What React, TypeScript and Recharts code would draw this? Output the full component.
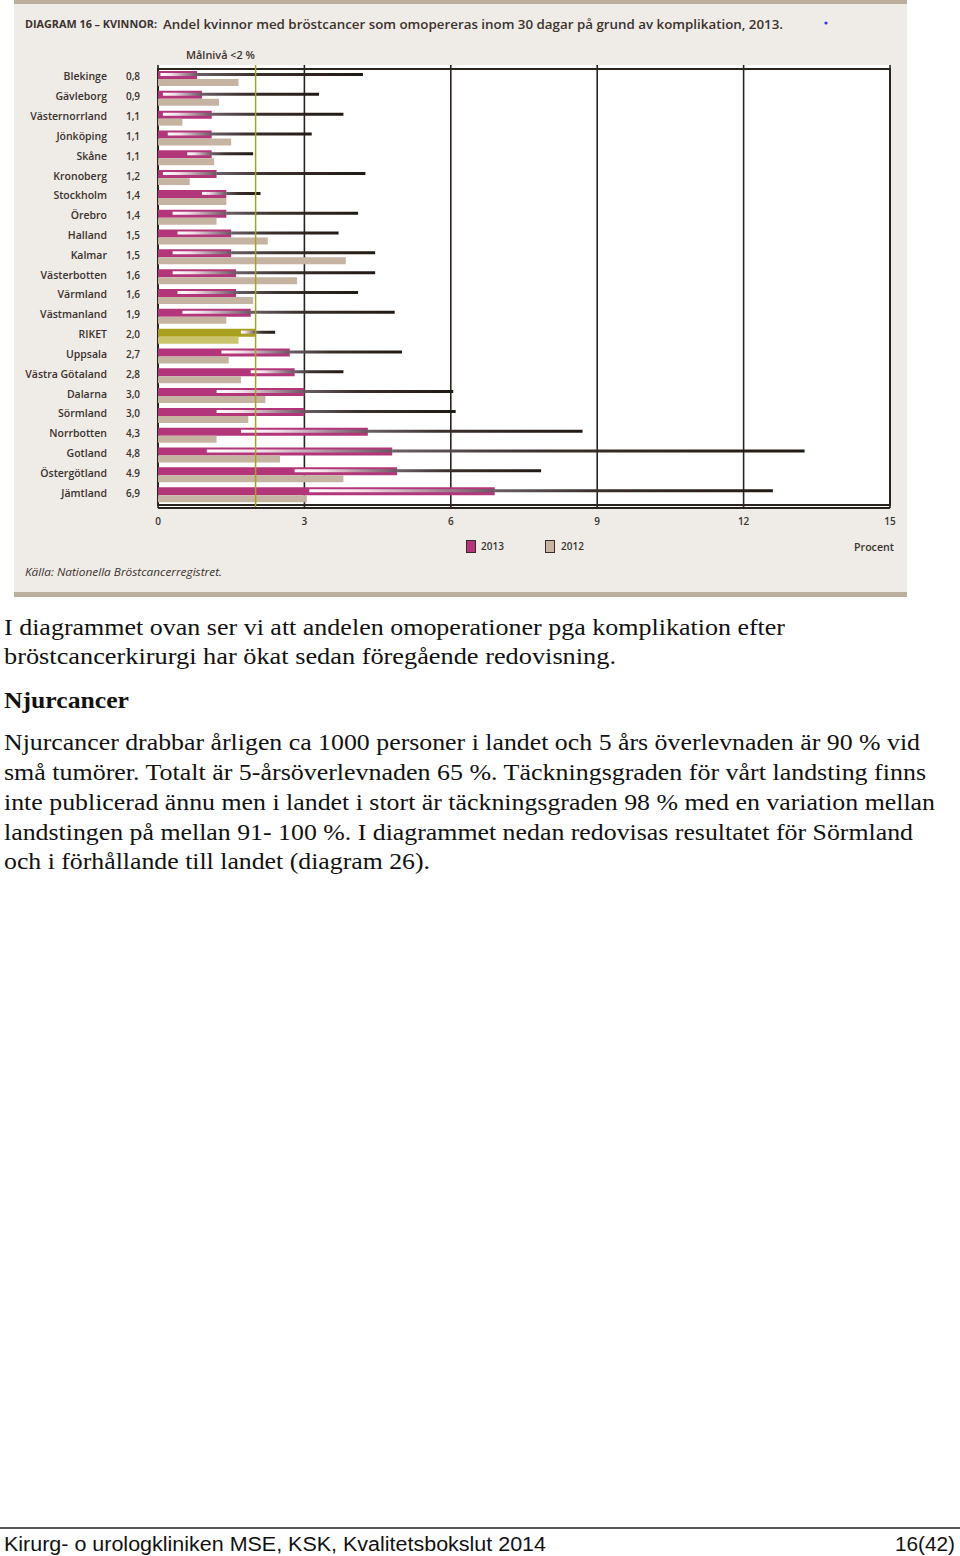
import React from 'react';
import {
  BarChart,
  Bar,
  XAxis,
  YAxis,
  CartesianGrid,
  ReferenceLine,
  ReferenceArea,
  Cell,
} from 'recharts';

// ---------- data ----------
const regions = [
  'Blekinge', 'Gävleborg', 'Västernorrland', 'Jönköping', 'Skåne', 'Kronoberg',
  'Stockholm', 'Örebro', 'Halland', 'Kalmar', 'Västerbotten', 'Värmland',
  'Västmanland', 'RIKET', 'Uppsala', 'Västra Götaland', 'Dalarna', 'Sörmland',
  'Norrbotten', 'Gotland', 'Östergötland', 'Jämtland',
];
const valueLabels = [
  '0,8', '0,9', '1,1', '1,1', '1,1', '1,2', '1,4', '1,4', '1,5', '1,5', '1,6',
  '1,6', '1,9', '2,0', '2,7', '2,8', '3,0', '3,0', '4,3', '4,8', '4.9', '6,9',
];
const values2013 = [
  0.8, 0.9, 1.1, 1.1, 1.1, 1.2, 1.4, 1.4, 1.5, 1.5, 1.6, 1.6, 1.9, 2.0, 2.7,
  2.8, 3.0, 3.0, 4.3, 4.8, 4.9, 6.9,
];
const lower2013 = [
  0.05, 0.1, 0.1, 0.2, 0.6, 0.1, 0.9, 0.3, 0.4, 0.3, 0.3, 0.4, 0.5, 1.7, 1.3,
  1.9, 1.2, 1.2, 1.7, 1.0, 2.8, 3.1,
];
const upper2013 = [
  4.2, 3.3, 3.8, 3.15, 1.95, 4.25, 2.1, 4.1, 3.7, 4.45, 4.45, 4.1, 4.85, 2.4,
  5.0, 3.8, 6.05, 6.1, 8.7, 13.25, 7.85, 12.6,
];
const values2012 = [
  1.65, 1.25, 0.5, 1.5, 1.15, 0.65, 1.4, 1.2, 2.25, 3.85, 2.85, 1.95, 1.4, 1.65,
  1.45, 1.7, 2.2, 1.85, 1.2, 2.5, 3.8, 3.05,
];
const xTicks = [0, 3, 6, 9, 12, 15];
const targetLevel = 2;
const highlightRegion = 'RIKET';

const data = regions.map((name, i) => ({
  name,
  label: valueLabels[i],
  v2013: values2013[i],
  lo: lower2013[i],
  hi: upper2013[i],
  v2012: values2012[i],
}));

// ---------- styles ----------
const MAGENTA = '#b3367a';
const TAN = '#c6b4a2';
const OLIVE = '#a7a11f';
const OLIVE_LIGHT = '#c9c46c';
const DARK = '#2b231e';
const PANEL = '#efebe6';
const CHART_FONT = 'Open Sans, DejaVu Sans, sans-serif';
const SERIF = 'Liberation Serif, Times New Roman, Times, serif';
const SANS = 'Liberation Sans, Arial, Helvetica, sans-serif';

const NAME_RIGHT_X = 107;
const VALUE_CENTER_X = 133;

const yPadding = { top: 4, bottom: 3 };

const RegionTick = (props: any) => {
  const { y, payload } = props;
  const row = data.find((d) => d.name === payload.value);
  return (
    <g>
      <text
        x={NAME_RIGHT_X}
        y={y}
        dy={1.5}
        textAnchor="end"
        fontSize={10.5}
        fontWeight={600}
        fill="#3a322e"
        fontFamily={CHART_FONT}
      >
        {payload.value}
      </text>
      <text
        x={VALUE_CENTER_X}
        y={y}
        dy={1.5}
        textAnchor="middle"
        fontSize={10}
        fontWeight={600}
        fill="#3a322e"
        fontFamily={CHART_FONT}
      >
        {row ? row.label : ''}
      </text>
    </g>
  );
};

const bodyLines1 = [
  { t: 'I diagrammet ovan ser vi att andelen omoperationer pga komplikation efter', w: 781, y: 635 },
  { t: 'bröstcancerkirurgi har ökat sedan föregående redovisning.', w: 612, y: 664 },
];
const bodyLines2 = [
  { t: 'Njurcancer drabbar årligen ca 1000 personer i landet och 5 års överlevnaden är 90 % vid', w: 916, y: 750 },
  { t: 'små tumörer. Totalt är 5-årsöverlevnaden 65 %. Täckningsgraden för vårt landsting finns', w: 922, y: 780 },
  { t: 'inte publicerad ännu men i landet i stort är täckningsgraden 98 % med en variation mellan', w: 931, y: 810 },
  { t: 'landstingen på mellan 91- 100 %. I diagrammet nedan redovisas resultatet för Sörmland', w: 909, y: 840 },
  { t: 'och i förhållande till landet (diagram 26).', w: 426, y: 869 },
];

export default function App() {
  return (
    <div style={{ position: 'relative', width: 960, height: 1556, background: '#fff', overflow: 'hidden' }}>
      <style>{'body{margin:0;}'}</style>
      <svg width={0} height={0} style={{ position: 'absolute' }}>
        <defs>
          <linearGradient id="stripeGrad" x1="0" y1="0" x2="1" y2="0">
            <stop offset="0" stopColor="#ffffff" />
            <stop offset="0.3" stopColor="#f0dfe8" />
            <stop offset="0.7" stopColor="#a48a98" />
            <stop offset="1" stopColor="#6a5662" />
          </linearGradient>
          <linearGradient id="lineGrad" x1="0" y1="0" x2="1" y2="0">
            <stop offset="0" stopColor="#6a5f66" />
            <stop offset="0.35" stopColor="#3a302c" />
            <stop offset="1" stopColor="#211914" />
          </linearGradient>
        </defs>
      </svg>

      {/* chart panel */}
      <div
        style={{
          position: 'absolute',
          left: 14,
          top: 0,
          width: 893,
          height: 588,
          background: PANEL,
          borderTop: '4px solid #bcae9c',
          borderBottom: '5px solid #bcae9c',
        }}
      />

      <div style={{ position: 'absolute', left: 0, top: 0 }}>
        <BarChart
          width={960}
          height={600}
          data={data}
          layout="vertical"
          barGap={0}
          margin={{ top: 65, right: 70, bottom: 62, left: 0 }}
        >
          <CartesianGrid
            yAxisId="main"
            horizontal={false}
            stroke={DARK}
            strokeWidth={1.6}
            fill="#ffffff"
            fillOpacity={1}
          />
          <XAxis
            type="number"
            domain={[0, 15]}
            ticks={xTicks}
            height={30}
            axisLine={{ stroke: DARK, strokeWidth: 2 }}
            tickLine={false}
            tickSize={0}
            tickMargin={10}
            tick={{ fontSize: 10, fill: '#3a322e', fontFamily: CHART_FONT, fontWeight: 600 }}
            interval={0}
          />
          <YAxis
            yAxisId="main"
            type="category"
            dataKey="name"
            width={158}
            axisLine={false}
            tickLine={false}
            tickSize={0}
            tickMargin={0}
            interval={0}
            padding={yPadding}
            tick={<RegionTick />}
          />
          <YAxis yAxisId="ci1" type="category" dataKey="name" hide padding={yPadding} />
          <YAxis yAxisId="ci2" type="category" dataKey="name" hide padding={yPadding} />
          <ReferenceLine
            yAxisId="main"
            x={targetLevel}
            stroke={OLIVE}
            strokeWidth={1.5}
          />
          <Bar yAxisId="main" dataKey="v2013" barSize={8} fill={MAGENTA} isAnimationActive={false}>
            {data.map((d) => (
              <Cell key={d.name} fill={d.name === highlightRegion ? OLIVE : MAGENTA} />
            ))}
          </Bar>
          <Bar yAxisId="main" dataKey="v2012" barSize={7} fill={TAN} isAnimationActive={false}>
            {data.map((d) => (
              <Cell key={d.name} fill={d.name === highlightRegion ? OLIVE_LIGHT : TAN} />
            ))}
          </Bar>
          <Bar
            yAxisId="ci1"
            dataKey={(d: any) => [d.lo, d.v2013]}
            barSize={3}
            fill="url(#stripeGrad)"
            isAnimationActive={false}
          />
          <Bar yAxisId="ci1" dataKey="v2012" barSize={9} fill="none" isAnimationActive={false} />
          <Bar
            yAxisId="ci2"
            dataKey={(d: any) => [d.v2013, d.hi]}
            barSize={3}
            fill="url(#lineGrad)"
            isAnimationActive={false}
          />
          <Bar yAxisId="ci2" dataKey="v2012" barSize={9} fill="none" isAnimationActive={false} />
          <ReferenceArea
            yAxisId="main"
            x1={0}
            x2={15}
            fill="none"
            stroke={DARK}
            strokeWidth={2}
          />
        </BarChart>
      </div>

      {/* texts */}
      <svg
        width={960}
        height={1556}
        style={{ position: 'absolute', left: 0, top: 0, pointerEvents: 'none' }}
      >
        <text x={25} y={28} fontSize={10} fontWeight={700} fill="#3a322e" fontFamily={CHART_FONT}
          textLength={132} lengthAdjust="spacingAndGlyphs">
          DIAGRAM 16 – KVINNOR:
        </text>
        <text x={163} y={29} fontSize={13} fontWeight={600} fill="#3a322e" fontFamily={CHART_FONT}
          textLength={620} lengthAdjust="spacingAndGlyphs">
          Andel kvinnor med bröstcancer som omopereras inom 30 dagar på grund av komplikation, 2013.
        </text>
        <circle cx={826} cy={23} r={1.6} fill="#3434d8" />
        <text x={255} y={59} textAnchor="end" fontSize={10.5} fontWeight={600} fill="#3a322e"
          fontFamily={CHART_FONT} textLength={69} lengthAdjust="spacingAndGlyphs">
          Målnivå &lt;2 %
        </text>

        {/* legend */}
        <rect x={466.5} y={540.5} width={9} height={12} fill={MAGENTA} stroke="#3a2a2a" strokeWidth={1} />
        <text x={481} y={550} fontSize={10} fontWeight={600} fill="#3a322e" fontFamily={CHART_FONT}>2013</text>
        <rect x={545.5} y={540.5} width={9} height={12} fill={TAN} stroke="#3a2a2a" strokeWidth={1} />
        <text x={561} y={550} fontSize={10} fontWeight={600} fill="#3a322e" fontFamily={CHART_FONT}>2012</text>
        <text x={854} y={551} fontSize={10.5} fontWeight={600} fill="#3a322e" fontFamily={CHART_FONT}
          textLength={40} lengthAdjust="spacingAndGlyphs">Procent</text>
        <text x={25} y={576} fontSize={10.5} fontStyle="italic" fill="#3a322e" fontFamily={CHART_FONT}
          textLength={197} lengthAdjust="spacingAndGlyphs">Källa: Nationella Bröstcancerregistret.</text>

        {/* body text */}
        {bodyLines1.map((l) => (
          <text key={l.t} x={4} y={l.y} fontSize={24} fill="#111" fontFamily={SERIF}
            textLength={l.w} lengthAdjust="spacingAndGlyphs">{l.t}</text>
        ))}
        <text x={4} y={708} fontSize={24} fontWeight={700} fill="#111" fontFamily={SERIF}
          textLength={125} lengthAdjust="spacingAndGlyphs">Njurcancer</text>
        {bodyLines2.map((l) => (
          <text key={l.t} x={4} y={l.y} fontSize={24} fill="#111" fontFamily={SERIF}
            textLength={l.w} lengthAdjust="spacingAndGlyphs">{l.t}</text>
        ))}

        {/* footer */}
        <line x1={0} y1={1528} x2={960} y2={1528} stroke="#555" strokeWidth={2} />
        <text x={4} y={1551} fontSize={20} fill="#111" fontFamily={SANS}
          textLength={542} lengthAdjust="spacingAndGlyphs">
          Kirurg- o urologkliniken MSE, KSK, Kvalitetsbokslut 2014
        </text>
        <text x={895} y={1551} fontSize={20} fill="#111" fontFamily={SANS}
          textLength={60} lengthAdjust="spacingAndGlyphs">16(42)</text>
      </svg>
    </div>
  );
}
